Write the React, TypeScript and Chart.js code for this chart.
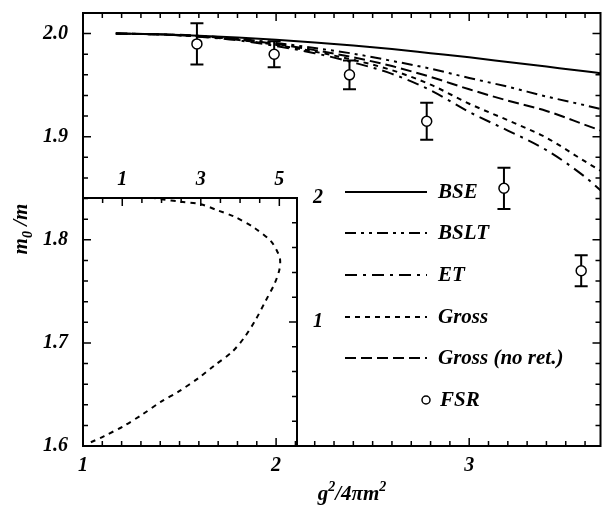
import React, { useEffect, useRef } from 'react';
import { Chart, registerables } from 'chart.js';
Chart.register(...registerables);

// ---- data ----
const curveX = [1.17, 1.4, 1.6, 1.8, 2.0, 2.2, 2.4, 2.6, 2.8, 3.0, 3.2, 3.4, 3.6, 3.68];
const bseY = [2.0, 1.9993, 1.998, 1.9962, 1.994, 1.9915, 1.9885, 1.985, 1.981, 1.977, 1.9725, 1.968, 1.9635, 1.9615];
const bsltY = [2.0, 1.9993, 1.998, 1.995, 1.991, 1.986, 1.9805, 1.9735, 1.966, 1.957, 1.9485, 1.939, 1.9305, 1.927];
const etY = [2.0, 1.9992, 1.997, 1.9935, 1.988, 1.981, 1.972, 1.961, 1.945, 1.924, 1.906, 1.887, 1.861, 1.848];
const grossY = [2.0, 1.9992, 1.9972, 1.994, 1.989, 1.9825, 1.9745, 1.9645, 1.9505, 1.932, 1.916, 1.899, 1.876, 1.867];
const grossNoRetY = [2.0, 1.9992, 1.9975, 1.9945, 1.99, 1.984, 1.977, 1.9685, 1.958, 1.946, 1.935, 1.925, 1.9115, 1.906];

const fsrX = [1.59, 1.99, 2.38, 2.78, 3.18, 3.58];
const fsrY = [1.99, 1.98, 1.96, 1.915, 1.85, 1.77];
const fsrErr = [0.02, 0.0125, 0.014, 0.018, 0.02, 0.015];

const xTickLabels = [1, 2, 3];
const yTickLabels = [1.6, 1.7, 1.8, 1.9, 2.0];

const insetX = [0.2, 0.54, 1.03, 1.49, 2.0, 2.44, 2.95, 3.35, 3.8, 4.12, 4.4, 4.65, 4.88, 5.0, 5.02, 4.96, 4.79, 4.36, 3.85, 3.43, 3.0, 2.5, 1.99, 1.8];
const insetY = [0.03, 0.08, 0.16, 0.25, 0.36, 0.44, 0.55, 0.65, 0.76, 0.88, 1.02, 1.17, 1.31, 1.42, 1.5, 1.56, 1.65, 1.76, 1.85, 1.9, 1.95, 1.97, 1.99, 2.0];
const insetXTickLabels = [1, 3, 5];
const insetYTickLabels = [1, 2];

const FAMILY = "'Liberation Serif', 'Times New Roman', serif";
const FONT: any = { family: FAMILY, size: 20, style: 'italic', weight: 'bold' };

const pts = (xs: number[], ys: number[]) => xs.map((x, i) => ({ x, y: ys[i] }));

function drawTicks(ctx: CanvasRenderingContext2D, scale: any, from: number, to: number, step: number, isMajor: (v: number) => boolean, draw: (p: number, len: number) => void) {
  const n = Math.round((to - from) / step);
  for (let i = 0; i <= n; i++) {
    const v = from + i * step;
    const p = scale.getPixelForValue(v);
    draw(p, isMajor(v) ? 8 : 5);
  }
}

const near = (v: number, m: number) => Math.abs(v / m - Math.round(v / m)) < 1e-6;

const fitTo = (prop: 'width' | 'height', size: number) => (s: any) => {
  s[prop] = size;
  s.paddingTop = 0; s.paddingBottom = 0; s.paddingLeft = 0; s.paddingRight = 0;
};

const mainFrame = {
  id: 'mainFrame',
  afterDraw(chart: any) {
    const { ctx, chartArea: a, scales } = chart;
    const xs = scales.x, ys = scales.y;
    ctx.save();
    ctx.strokeStyle = '#000';
    ctx.lineWidth = 1.5;
    ctx.beginPath();
    drawTicks(ctx, xs, 1, 3.6, 0.1, v => near(v, 1), (p, l) => {
      ctx.moveTo(p, a.bottom); ctx.lineTo(p, a.bottom - l);
      ctx.moveTo(p, a.top); ctx.lineTo(p, a.top + l);
    });
    drawTicks(ctx, ys, 1.6, 2.02, 0.02, v => near(v, 0.1), (p, l) => {
      ctx.moveTo(a.left, p); ctx.lineTo(a.left + l, p);
      ctx.moveTo(a.right, p); ctx.lineTo(a.right - l, p);
    });
    ctx.stroke();
    ctx.lineWidth = 2;
    ctx.strokeRect(a.left, a.top, a.right - a.left, a.bottom - a.top);

    // legend
    const rows = [192, 233, 275, 317, 358, 400];
    ctx.font = `italic bold 21px ${FAMILY}`;
    ctx.textBaseline = 'middle';
    ctx.fillStyle = '#000';
    chart.data.datasets.forEach((ds: any, i: number) => {
      const y = rows[i];
      if (ds.showLine) {
        ctx.save();
        ctx.lineWidth = 2;
        ctx.setLineDash(ds.borderDash || []);
        ctx.beginPath(); ctx.moveTo(345, y); ctx.lineTo(427, y); ctx.stroke();
        ctx.restore();
        ctx.fillText(ds.label, 438, y + 1);
      } else {
        ctx.save();
        ctx.lineWidth = 1.5;
        ctx.fillStyle = '#fff';
        ctx.beginPath(); ctx.arc(426, y, 4, 0, Math.PI * 2); ctx.fill(); ctx.stroke();
        ctx.restore();
        ctx.fillText(ds.label, 440, y + 1);
      }
    });

    // axis titles
    const big = `italic bold 21px ${FAMILY}`;
    const small = `italic bold 14px ${FAMILY}`;
    const rich = (parts: [string, string, number][], cx: number, cy: number) => {
      let w = 0;
      parts.forEach(([t, f]) => { ctx.font = f; w += ctx.measureText(t).width; });
      let x = cx - w / 2;
      ctx.textAlign = 'left';
      ctx.textBaseline = 'alphabetic';
      parts.forEach(([t, f, dy]) => { ctx.font = f; ctx.fillText(t, x, cy + dy); x += ctx.measureText(t).width; });
    };
    rich([['g', big, 0], ['2', small, -9], ['/4\u03c0m', big, 0], ['2', small, -9]], 352, 500);
    ctx.save();
    ctx.translate(27, 229);
    ctx.rotate(-Math.PI / 2);
    rich([['m', big, 0], ['0', small, 5], [' /m', big, 0]], 0, 0);
    ctx.restore();
    ctx.restore();
  },
  beforeDatasetsDraw(chart: any) {
    const { ctx, scales } = chart;
    ctx.save();
    ctx.strokeStyle = '#000';
    ctx.lineWidth = 2;
    ctx.beginPath();
    fsrX.forEach((x, i) => {
      const px = scales.x.getPixelForValue(x);
      const t = scales.y.getPixelForValue(fsrY[i] + fsrErr[i]);
      const b = scales.y.getPixelForValue(fsrY[i] - fsrErr[i]);
      ctx.moveTo(px, t); ctx.lineTo(px, b);
      ctx.moveTo(px - 6.5, t); ctx.lineTo(px + 6.5, t);
      ctx.moveTo(px - 6.5, b); ctx.lineTo(px + 6.5, b);
    });
    ctx.stroke();
    ctx.restore();
  },
};

const insetFrame = {
  id: 'insetFrame',
  afterDraw(chart: any) {
    const { ctx, chartArea: a, scales } = chart;
    ctx.save();
    ctx.strokeStyle = '#000';
    ctx.lineWidth = 1.5;
    ctx.beginPath();
    drawTicks(ctx, scales.x, 0.5, 5, 0.5, v => near(v, 1) && !near(v, 2), (p, l) => {
      ctx.moveTo(p, a.top); ctx.lineTo(p, a.top + l);
    });
    drawTicks(ctx, scales.y, 0.2, 1.8, 0.2, v => near(v, 1), (p, l) => {
      ctx.moveTo(a.right, p); ctx.lineTo(a.right - l, p);
    });
    ctx.stroke();
    ctx.lineWidth = 2;
    ctx.beginPath();
    ctx.moveTo(a.left, a.top); ctx.lineTo(a.right, a.top); ctx.lineTo(a.right, a.bottom);
    ctx.stroke();
    ctx.restore();
  },
};

export default function App() {
  const mainRef = useRef<HTMLCanvasElement>(null);
  const insetRef = useRef<HTMLCanvasElement>(null);

  useEffect(() => {
    const lineDs = (label: string, ys: number[], dash: number[]) => ({
      label, data: pts(curveX, ys), showLine: true, borderColor: '#000', borderWidth: 2,
      borderDash: dash, pointRadius: 0, cubicInterpolationMode: 'monotone' as const, fill: false,
    });
    const main = new Chart(mainRef.current!, {
      type: 'scatter',
      data: {
        datasets: [
          lineDs('BSE', bseY, []),
          lineDs('BSLT', bsltY, [11, 5, 3, 5, 3, 5]),
          lineDs('ET', etY, [12, 6, 3, 6]),
          lineDs('Gross', grossY, [5, 5]),
          lineDs('Gross (no ret.)', grossNoRetY, [11, 5]),
          {
            label: 'FSR', data: pts(fsrX, fsrY), showLine: false, pointRadius: 5,
            pointBackgroundColor: '#fff', pointBorderColor: '#000', pointBorderWidth: 1.5,
          } as any,
        ],
      },
      options: {
        animation: false,
        responsive: true,
        maintainAspectRatio: false,
        layout: { padding: { top: 13, right: 1, left: 0, bottom: 0 } },
        plugins: { legend: { display: false }, tooltip: { enabled: false } },
        scales: {
          x: {
            type: 'linear', min: 1, max: 3.68,
            grid: { display: false, drawTicks: false }, border: { display: false },
            afterBuildTicks: (s: any) => { s.ticks = xTickLabels.map(v => ({ value: v })); },
            afterFit: fitTo('height', 60),
            ticks: { font: FONT, color: '#000', padding: 8, maxRotation: 0, autoSkip: false, callback: (v: any) => String(v) },
          },
          y: {
            type: 'linear', min: 1.6, max: 2.02,
            grid: { display: false, drawTicks: false }, border: { display: false },
            afterBuildTicks: (s: any) => { s.ticks = yTickLabels.map(v => ({ value: v })); },
            afterFit: fitTo('width', 83),
            ticks: { font: FONT, color: '#000', padding: 15, autoSkip: false, callback: (v: any) => Number(v).toFixed(1) },
          },
        },
      },
      plugins: [mainFrame],
    });

    const inset = new Chart(insetRef.current!, {
      type: 'scatter',
      data: {
        datasets: [{
          label: 'inset', data: pts(insetX, insetY), showLine: true, borderColor: '#000',
          borderWidth: 2, borderDash: [5, 5], pointRadius: 0, tension: 0.3, fill: false,
        }],
      },
      options: {
        animation: false,
        responsive: true,
        maintainAspectRatio: false,
        layout: { padding: 0 },
        plugins: { legend: { display: false }, tooltip: { enabled: false } },
        scales: {
          x: {
            type: 'linear', position: 'top', min: 0, max: 5.45,
            grid: { display: false, drawTicks: false }, border: { display: false },
            afterBuildTicks: (s: any) => { s.ticks = insetXTickLabels.map(v => ({ value: v })); },
            afterFit: fitTo('height', 48),
            ticks: { font: FONT, color: '#000', padding: 6, maxRotation: 0, autoSkip: false, callback: (v: any) => String(v) },
          },
          y: {
            type: 'linear', position: 'right', min: 0, max: 2,
            grid: { display: false, drawTicks: false }, border: { display: false },
            afterBuildTicks: (s: any) => { s.ticks = insetYTickLabels.map(v => ({ value: v })); },
            afterFit: fitTo('width', 40),
            ticks: { font: FONT, color: '#000', padding: 16, autoSkip: false, callback: (v: any) => String(v) },
          },
        },
      },
      plugins: [insetFrame],
    });

    return () => { main.destroy(); inset.destroy(); };
  }, []);

  return (
    <div style={{ position: 'absolute', left: 0, top: 0, width: 607, height: 506, background: '#fff' }}>
      <div style={{ position: 'absolute', left: 0, top: 0, width: 607, height: 506 }}>
        <canvas ref={mainRef} />
      </div>
      <div style={{ position: 'absolute', left: 83, top: 150, width: 254, height: 296 }}>
        <canvas ref={insetRef} />
      </div>
    </div>
  );
}
